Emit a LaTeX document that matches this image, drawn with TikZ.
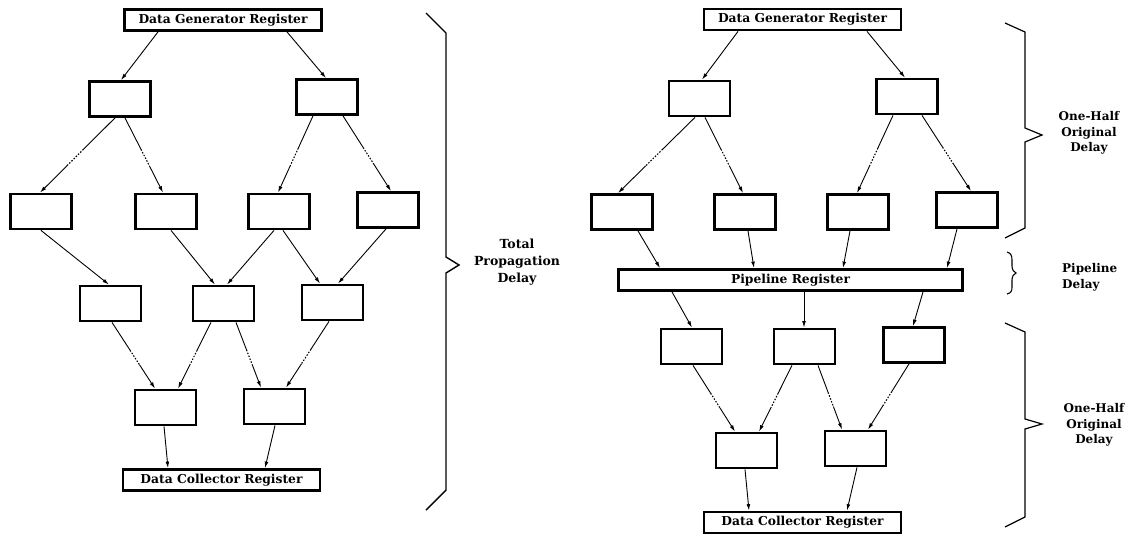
\documentclass[tikz,border=0pt]{standalone}
\usepackage{fontspec}
\setmainfont{DejaVu Serif}
\usetikzlibrary{arrows.meta,calc}
\newcommand\sconn[4]{\draw[arr] ([xshift=#2pt]#1.south) -- ([xshift=#4pt]#3.north);}
\newcommand\dconn[4]{%
  \path ([xshift=#2pt]#1.south) coordinate (cs) ([xshift=#4pt]#3.north) coordinate (ct);
  \draw[ln] (cs) -- ($(cs)!0.42!(ct)$);
  \draw[ln,dotp] ($(cs)!0.42!(ct)$) -- ($(cs)!0.64!(ct)$);
  \draw[arr] ($(cs)!0.64!(ct)$) -- (ct);}
\begin{document}
\begin{tikzpicture}[x=1pt,y=-1pt,
  box/.style={draw, line width=2.8pt, minimum width=61pt, minimum height=35pt, inner sep=0pt},
  reg/.style={draw, line width=2.8pt, minimum width=197pt, minimum height=21pt, inner sep=0pt,
    font=\fontsize{12.3}{13}\selectfont\bfseries},
  ln/.style={line width=0.9pt},
  dotp/.style={line width=1.1pt, dash pattern=on 1.5pt off 1.6pt},
  arr/.style={line width=0.9pt, -{Latex[length=6.5pt,width=3.8pt]}},
  brc/.style={line width=1.2pt, line join=miter},
  lbl/.style={font=\fontsize{12}{16}\selectfont\bfseries, align=center, inner sep=0pt}]
\useasboundingbox (0,0) rectangle (1137,536);

% ---------------- left diagram ----------------
\node[reg] (LG) at (223,20) {Data Generator Register};
\node[box] (La1) at (120,99) {};
\node[box] (La2) at (327,97) {};
\node[box] (LbA) at (41,211.5) {};
\node[box] (LbB) at (166,211.5) {};
\node[box] (LbC) at (279,211.5) {};
\node[box] (LbD) at (388,210) {};
\node[box] (LcE) at (110.5,303.5) {};
\node[box] (LcF) at (223.5,303.5) {};
\node[box] (LcG) at (332.5,302.5) {};
\node[box] (LdH) at (165.5,407.5) {};
\node[box] (LdI) at (274.5,406.5) {};
\node[reg] (LC) at (221.5,480) {Data Collector Register};

\sconn{LG}{-65}{La1}{1}
\sconn{LG}{64}{La2}{-1}
\dconn{La1}{-5}{LbA}{-1}
\dconn{La1}{5}{LbB}{-3}
\dconn{La2}{-14}{LbC}{-1}
\dconn{La2}{16}{LbD}{3}
\sconn{LbA}{0}{LcE}{-1.5}
\sconn{LbB}{5}{LcF}{-8.5}
\sconn{LbC}{-5}{LcF}{3.5}
\sconn{LbC}{4}{LcG}{-12.5}
\sconn{LbD}{-2}{LcG}{5.5}
\dconn{LcE}{1.5}{LdH}{-10.5}
\dconn{LcF}{-12.5}{LdH}{12.5}
\dconn{LcF}{12.5}{LdI}{-13.5}
\dconn{LcG}{-3.5}{LdI}{11.5}
\sconn{LdH}{-1.5}{LC}{-53.5}
\sconn{LdI}{0.5}{LC}{43.5}

% left brace
\draw[line width=1.4pt, line join=miter] (426,13) -- (446,33) -- (446,257) -- (459,265) -- (446,273) -- (446,490) -- (426,510);
\node[lbl, font=\fontsize{12.5}{17}\selectfont\bfseries] (Ltot) at (517,262) {Total\\Propagation\\Delay};

% ---------------- right diagram ----------------
\node[reg] (RG) at (802.5,19.5) {Data Generator Register};
\node[box] (Ra1) at (699.5,98.5) {};
\node[box] (Ra2) at (907,96.5) {};
\node[box] (RbA) at (622,212) {};
\node[box] (RbB) at (745,212) {};
\node[box] (RbC) at (858,212) {};
\node[box] (RbD) at (967,210) {};
\node[reg, minimum width=344pt] (RP) at (790.5,280) {Pipeline Register};
\node[box] (RcE) at (691.5,346.5) {};
\node[box] (RcF) at (804.5,346.5) {};
\node[box] (RcG) at (914,345) {};
\node[box] (RdH) at (746.5,450.5) {};
\node[box] (RdI) at (855.5,448.5) {};
\node[reg] (RC) at (802.5,522.5) {Data Collector Register};

\sconn{RG}{-64.5}{Ra1}{2.5}
\sconn{RG}{64.5}{Ra2}{-2}
\dconn{Ra1}{-4.5}{RbA}{-4}
\dconn{Ra1}{5.5}{RbB}{-2}
\dconn{Ra2}{-14}{RbC}{-1}
\dconn{Ra2}{15}{RbD}{4}
\sconn{RbA}{16}{RP}{-130.5}
\sconn{RbB}{3}{RP}{-36.5}
\sconn{RbC}{-8}{RP}{52.5}
\sconn{RbD}{-10}{RP}{156.5}
\sconn{RP}{-118.5}{RcE}{0.5}
\sconn{RP}{13.5}{RcF}{-0.5}
\sconn{RP}{132.5}{RcG}{-1}
\dconn{RcE}{1.5}{RdH}{-11.5}
\dconn{RcF}{-12.5}{RdH}{12.5}
\dconn{RcF}{13.5}{RdI}{-13.5}
\dconn{RcG}{-5}{RdI}{12.5}
\sconn{RdH}{-1.5}{RC}{-53.5}
\sconn{RdI}{1.5}{RC}{44.5}

% right braces
\draw[brc] (1005,23) -- (1025,32) -- (1025,128) -- (1042,135) -- (1025,142) -- (1025,228) -- (1005,238);
\draw[brc] (1005,323) -- (1025,332) -- (1025,419) -- (1042,424) -- (1025,429) -- (1025,517) -- (1005,527);
\draw[line width=1.1pt] (1007,252) .. controls (1011,253) and (1012,256) .. (1012,260) -- (1012,266)
  .. controls (1012,270) and (1014,272) .. (1016,273) .. controls (1014,274) and (1012,276) .. (1012,280)
  -- (1012,287) .. controls (1012,291) and (1011,293) .. (1007,294);

\node[lbl, font=\fontsize{12}{15.5}\selectfont\bfseries] (Rtop) at (1089,133) {One-Half\\Original\\Delay};
\node[lbl, align=left, anchor=west, font=\fontsize{12}{16}\selectfont\bfseries] (Rpipe) at (1062,277) {Pipeline\\Delay};
\node[lbl, font=\fontsize{12}{15.5}\selectfont\bfseries] (Rbot) at (1094,425) {One-Half\\Original\\Delay};
\end{tikzpicture}
\end{document}
